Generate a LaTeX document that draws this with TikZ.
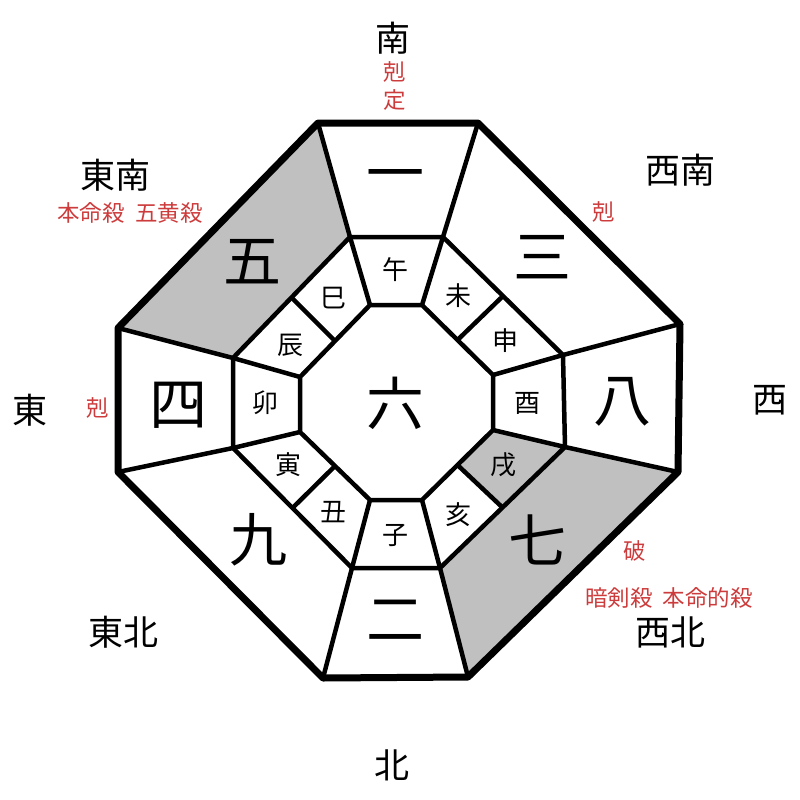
\documentclass[tikz,border=0pt]{standalone}
\usepackage{fontspec}
\setmainfont{Noto Sans CJK JP}
\usetikzlibrary{calc}
\definecolor{kred}{RGB}{205,60,60}
\definecolor{kgray}{RGB}{192,192,192}
\tikzset{
  outerline/.style={line width=7pt, line join=round},
  ringline/.style={line width=4.5pt, line join=round},
  bignum/.style={font=\fontsize{58}{58}\selectfont},
  branch/.style={font=\fontsize{26}{26}\selectfont},
  dirlabel/.style={font=\fontsize{35}{35}\selectfont},
  warn/.style={text=kred, font=\fontsize{22.5}{22.5}\selectfont},
}
\begin{document}
\begin{tikzpicture}[x=1pt,y=-1pt]
\useasboundingbox (0,0) rectangle (800,800);

% Outer octagon
\coordinate (o1) at (318,123);
\coordinate (o2) at (478,123);
\coordinate (o3) at (680,324);
\coordinate (o4) at (678,472);
\coordinate (o5) at (468,677);
\coordinate (o6) at (323,678);
\coordinate (o7) at (118,472);
\coordinate (o8) at (118,328);

% Middle octagon
\coordinate (m1) at (350,237);
\coordinate (m2) at (443,237);
\coordinate (m3) at (563,355);
\coordinate (m4) at (565,447);
\coordinate (m5) at (440,568);
\coordinate (m6) at (352,568);
\coordinate (m7) at (233,448);
\coordinate (m8) at (233,358);

% Inner octagon
\coordinate (n1) at (370,305);
\coordinate (n2) at (422,305);
\coordinate (n3) at (493,375);
\coordinate (n4) at (493,430);
\coordinate (n5) at (422,500);
\coordinate (n6) at (370,500);
\coordinate (n7) at (300,432);
\coordinate (n8) at (300,377);

% Gray cells
\fill[kgray] (o1) -- (m1) -- (m8) -- (o8) -- cycle;
\fill[kgray] (o4) -- (o5) -- (m5) -- (m4) -- cycle;
\fill[kgray] (m4) -- ($(m4)!0.5!(m5)$) -- ($(n4)!0.5!(n5)$) -- (n4) -- cycle;

% Rings
\draw[ringline] (m1) -- (m2) -- (m3) -- (m4) -- (m5) -- (m6) -- (m7) -- (m8) -- cycle;
\draw[ringline] (n1) -- (n2) -- (n3) -- (n4) -- (n5) -- (n6) -- (n7) -- (n8) -- cycle;

% Spokes
\foreach \i in {1,...,8}
  \draw[ringline] (o\i) -- (m\i) -- (n\i);

% Dividers in the diagonal cells
\foreach \i/\j in {2/3,4/5,6/7,8/1}
  \draw[ringline] ($(m\i)!0.5!(m\j)$) -- ($(n\i)!0.5!(n\j)$);

\draw[outerline] (o1) -- (o2) -- (o3) -- (o4) -- (o5) -- (o6) -- (o7) -- (o8) -- cycle;

% Stars
\node[bignum] (n-six)   at (395,403) {六};
\node[bignum] (n-one)   at (395,182) {一};
\node[bignum] (n-three) at (542,257) {三};
\node[bignum] (n-eight) at (622,402) {八};
\node[bignum] (n-seven) at (537,540) {七};
\node[bignum] (n-two)   at (395,620) {二};
\node[bignum] (n-nine)  at (258,540) {九};
\node[bignum] (n-four)  at (178,405) {四};
\node[bignum] (n-five)  at (252,262) {五};

% Branches
\node[branch] (b-wu)   at (395,270) {午};
\node[branch] (b-wei)  at (458,296) {未};
\node[branch] (b-shen) at (505,341) {申};
\node[branch] (b-you)  at (527,403) {酉};
\node[branch] (b-xu)   at (503,465) {戌};
\node[branch] (b-hai)  at (458,515) {亥};
\node[branch] (b-zi)   at (395,535) {子};
\node[branch] (b-chou) at (333,512) {丑};
\node[branch] (b-yin)  at (288,465) {寅};
\node[branch] (b-mao)  at (265,403) {卯};
\node[branch] (b-chen) at (290,345) {辰};
\node[branch] (b-si)   at (333,298) {巳};

% Directions
\node[dirlabel] (d-s)  at (393,38)  {南};
\node[dirlabel] (d-se) at (115,175) {東南};
\node[dirlabel] (d-sw) at (680,170) {西南};
\node[dirlabel] (d-e)  at (30,410)  {東};
\node[dirlabel] (d-w)  at (770,400) {西};
\node[dirlabel] (d-ne) at (123,632) {東北};
\node[dirlabel] (d-nw) at (670,632) {西北};
\node[dirlabel] (d-n)  at (392,765) {北};

% Red notes
\node[warn] (w-s1) at (395,72)  {剋};
\node[warn] (w-s2) at (395,100) {定};
\node[warn] (w-se) at (130,213) {本命殺\ \ 五黄殺};
\node[warn] (w-sw) at (604,212) {剋};
\node[warn] (w-e)  at (98,408)  {剋};
\node[warn] (w-nw1) at (635,551) {破};
\node[warn] (w-nw2) at (669,598) {暗剣殺\ \ 本命的殺};

\end{tikzpicture}
\end{document}
